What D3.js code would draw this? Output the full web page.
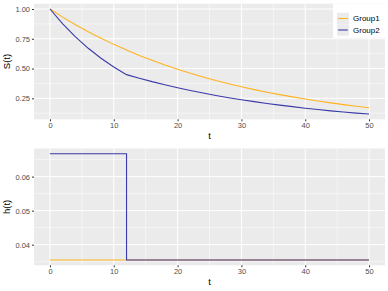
<!DOCTYPE html>
<html>
<head>
<meta charset="utf-8">
<script src="https://cdn.jsdelivr.net/npm/d3@7"></script>
<style>
  body { margin: 0; background: #fff; }
  svg { display: block; font-family: "Liberation Sans", Arial, sans-serif; }
</style>
</head>
<body>
<div id="container"></div>
<script>
// survival values
const times = [0, 2, 4, 6, 8, 10, 12, 14, 16, 18, 20, 22, 24, 26, 28, 30, 32, 34, 36, 38, 40, 42, 44, 46, 48, 50];
const surv1 = [1, 0.932, 0.868, 0.809, 0.754, 0.703, 0.655, 0.610, 0.569, 0.530, 0.494, 0.460, 0.429, 0.399, 0.372, 0.347, 0.323, 0.301, 0.281, 0.262, 0.244, 0.227, 0.212, 0.197, 0.184, 0.171];
const surv2 = [1, 0.875, 0.766, 0.670, 0.587, 0.513, 0.449, 0.419, 0.390, 0.364, 0.339, 0.316, 0.294, 0.274, 0.255, 0.238, 0.222, 0.207, 0.193, 0.180, 0.167, 0.156, 0.145, 0.135, 0.126, 0.118];

// hazard steps
const hazTimes = [0, 12, 50];
const haz1 = [0.0355, 0.0355, 0.0355];
const haz2 = [0.0667, 0.0355, 0.0355];

const groups = ["Group1", "Group2"];
const colors = ["#FFB31F", "#3A3AA8"];

const xTicks = [0, 10, 20, 30, 40, 50];
const xMinor = [5, 15, 25, 35, 45];
const sTicks = [0.25, 0.5, 0.75, 1.0];
const sMinor = [0.125, 0.375, 0.625, 0.875];
const hTicks = [0.04, 0.05, 0.06];
const hMinor = [0.035, 0.045, 0.055, 0.065];

const width = 388, height = 291;
const svg = d3.select('#container').append('svg')
  .attr('width', width)
  .attr('height', height);

function expand(lo, hi) {
  const pad = (hi - lo) * 0.05;
  return [lo - pad, hi + pad];
}

function panel(opts) {
  const {top, bottom, yDomain, yTicks, yMinor, yFmt, ytitle, series} = opts;
  const left = 34, right = 385;

  const x = d3.scaleLinear().domain(expand(0, 50)).range([left, right]);
  const y = d3.scaleLinear().domain(yDomain).range([bottom, top]);

  const g = svg.append('g');
  g.append('rect')
    .attr('x', left).attr('y', top)
    .attr('width', right - left).attr('height', bottom - top)
    .attr('fill', '#EBEBEB');

  // minor grid
  g.selectAll('line.xminor').data(xMinor).join('line')
    .attr('x1', d => x(d)).attr('x2', d => x(d))
    .attr('y1', top).attr('y2', bottom)
    .attr('stroke', '#fff').attr('stroke-width', 0.5);
  g.selectAll('line.yminor').data(yMinor.filter(d => y(d) > top && y(d) < bottom)).join('line')
    .attr('x1', left).attr('x2', right)
    .attr('y1', d => y(d)).attr('y2', d => y(d))
    .attr('stroke', '#fff').attr('stroke-width', 0.5);

  // major grid
  g.append('g').selectAll('line').data(xTicks).join('line')
    .attr('x1', d => x(d)).attr('x2', d => x(d))
    .attr('y1', top).attr('y2', bottom)
    .attr('stroke', '#fff').attr('stroke-width', 1);
  g.append('g').selectAll('line').data(yTicks).join('line')
    .attr('x1', left).attr('x2', right)
    .attr('y1', d => y(d)).attr('y2', d => y(d))
    .attr('stroke', '#fff').attr('stroke-width', 1);

  // axes
  const xAxis = g.append('g')
    .attr('transform', `translate(0,${bottom})`)
    .call(d3.axisBottom(x).tickValues(xTicks).tickSize(2).tickPadding(1.5));
  const yAxis = g.append('g')
    .attr('transform', `translate(${left},0)`)
    .call(d3.axisLeft(y).tickValues(yTicks).tickFormat(yFmt).tickSize(2).tickPadding(2));
  [xAxis, yAxis].forEach(a => {
    a.select('.domain').remove();
    a.selectAll('.tick line').attr('stroke', '#333');
    a.selectAll('.tick text').attr('fill', '#4D4D4D')
      .style('font-size', '7.5px');
  });

  // series
  series.forEach((s, i) => {
    g.append('path')
      .datum(s.xs.map((t, j) => [t, s.ys[j]]))
      .attr('fill', 'none')
      .attr('stroke', colors[i])
      .attr('stroke-width', 1.1)
      .attr('d', d3.line().x(d => x(d[0])).y(d => y(d[1])).curve(s.curve));
  });

  // titles
  g.append('text')
    .attr('x', (left + right) / 2).attr('y', bottom + 20)
    .attr('text-anchor', 'middle')
    .style('font-size', '9.5px')
    .text('t');
  g.append('text')
    .attr('transform', `translate(10,${(top + bottom) / 2}) rotate(-90)`)
    .attr('text-anchor', 'middle')
    .style('font-size', '9.5px')
    .text(ytitle);
}

panel({
  top: 3.75, bottom: 119.3,
  yDomain: expand(d3.min(surv2), 1),
  yTicks: sTicks, yMinor: sMinor,
  yFmt: d3.format('.2f'),
  ytitle: 'S(t)',
  series: [
    {xs: times, ys: surv1, curve: d3.curveLinear},
    {xs: times, ys: surv2, curve: d3.curveLinear}
  ]
});

panel({
  top: 148.5, bottom: 265.3,
  yDomain: expand(d3.min(haz1), d3.max(haz2)),
  yTicks: hTicks, yMinor: hMinor,
  yFmt: d3.format('.2f'),
  ytitle: 'h(t)',
  series: [
    {xs: hazTimes, ys: haz1, curve: d3.curveStepAfter},
    {xs: hazTimes, ys: haz2, curve: d3.curveStepAfter}
  ]
});

// legend, inside top-right of the top panel
const leg = svg.append('g').attr('transform', 'translate(333,3.75)');
leg.append('rect').attr('width', 52).attr('height', 34).attr('fill', '#fff');
groups.forEach((name, i) => {
  const row = leg.append('g').attr('transform', `translate(4,${9 + i * 11.5})`);
  row.append('rect').attr('width', 12).attr('height', 11.5).attr('fill', '#EBEBEB');
  row.append('line')
    .attr('x1', 1.2).attr('x2', 10.8)
    .attr('y1', 5.75).attr('y2', 5.75)
    .attr('stroke', colors[i]).attr('stroke-width', 1.1);
  row.append('text')
    .attr('x', 16).attr('y', 5.75)
    .attr('dy', '0.35em')
    .style('font-size', '8px')
    .text(name);
});
</script>
</body>
</html>
